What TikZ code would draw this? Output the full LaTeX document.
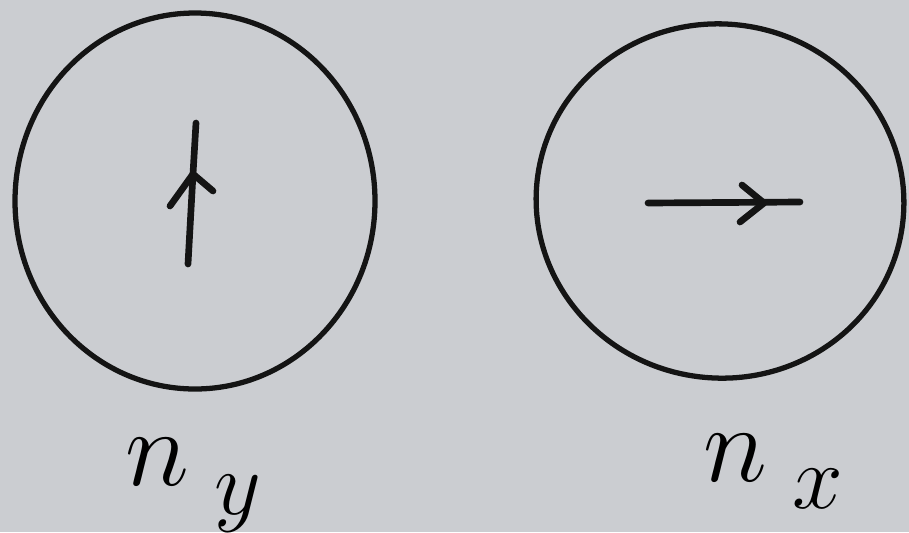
\documentclass[tikz,border=0pt]{standalone}
\usetikzlibrary{shapes.geometric}
\begin{document}
\begin{tikzpicture}[x=0.02cm,y=-0.02cm,
  ink/.style={draw=black!92, line width=3pt, line cap=round, line join=round},
  arr/.style={ink, line width=3.8pt},
  lbl/.style={font=\fontsize{24.88}{26}\selectfont, inner sep=0pt}]
\definecolor{paper}{RGB}{203,205,209}
\fill[paper] (0,0) rectangle (909,532);
\useasboundingbox (0,0) rectangle (909,532);
% circles
\node[ink, ellipse, minimum width=360*0.02cm, minimum height=376*0.02cm, inner sep=0pt] (cy) at (195,201) {};
\node[ink, ellipse, minimum width=368*0.02cm, minimum height=354*0.02cm, inner sep=0pt, rotate=-8] (cx) at (720,201) {};
% up arrow
\coordinate (ybot) at (188,264);
\coordinate (ytop) at (196,123);
\coordinate (yapex) at (193,174);
\coordinate (yl) at (170,206);
\coordinate (yr) at (213,191);
\draw[arr] (ybot) -- (yapex) -- (ytop);
\draw[arr] (yl) -- (yapex) -- (yr);
% right arrow
\coordinate (xl) at (648,203);
\coordinate (xr) at (800,202);
\coordinate (xapex) at (764,203);
\coordinate (xu) at (742,185);
\coordinate (xd) at (740,222);
\draw[arr] (xl) -- (xr);
\draw[arr] (xu) -- (xapex) -- (xd);
% labels
\node[lbl, anchor=base west] (ny) at (125,485) {\scalebox{2.5}{$n_{\mkern5mu\raisebox{-0.12em}{$\scriptstyle y$}}$}};
\node[lbl, anchor=base west] (nx) at (703,481) {\scalebox{2.5}{$n_{\mkern5mu\raisebox{-0.1em}{$\scriptstyle x$}}$}};
\end{tikzpicture}
\end{document}
